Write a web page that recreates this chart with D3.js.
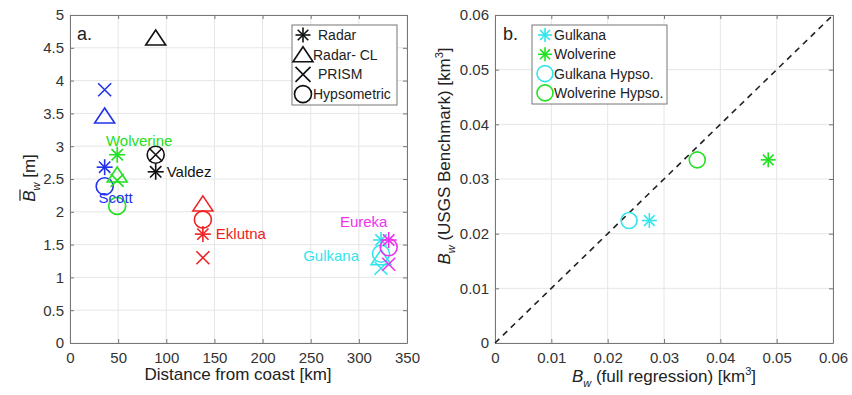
<!DOCTYPE html>
<html>
<head>
<meta charset="utf-8">
<script src="https://cdn.jsdelivr.net/npm/d3@7"></script>
<style>
  body { margin: 0; background: #fff; }
  svg { font-family: "Liberation Sans", Arial, sans-serif; }
</style>
</head>
<body>
<svg id="chart" width="852" height="395"></svg>
<script>
// ---- Panel a: mean winter balance vs. distance from coast ----
const sites      = ["Scott", "Wolverine", "Valdez", "Eklutna", "Gulkana", "Eureka"];
const distanceKm = [36, 49, 89, 138, 323, 331];
const radarB     = [2.68, 2.87, 2.61, 1.66, 1.57, 1.57];
const radarCLB   = [3.46, 2.56, 4.65, 2.12, 1.30, null];
const prismB     = [3.86, 2.48, 2.87, 1.30, 1.14, 1.20];
const hypsoB     = [2.39, 2.09, 2.87, 1.88, 1.36, 1.46];
const siteColors = ["#2233ee", "#22e022", "#111111", "#ee2222", "#33e4ec", "#ee33ee"];
const methodNames = ["Radar", "Radar- CL", "PRISM", "Hypsometric"];
const xTicksA = [0, 50, 100, 150, 200, 250, 300, 350];
const yTicksA = [0, 0.5, 1, 1.5, 2, 2.5, 3, 3.5, 4, 4.5, 5];

// ---- Panel b: glacier-wide winter balance volume ----
const glaciersB   = ["Gulkana", "Wolverine"];
const fullRegress = [0.0274, 0.0485];
const hypsoVol    = [0.0238, 0.0359];
const usgsBench   = [0.0224, 0.0335];
const glacierColors = ["#33e4ec", "#22e022"];
const legendB = ["Gulkana", "Wolverine", "Gulkana Hypso.", "Wolverine Hypso."];
const ticksB = [0, 0.01, 0.02, 0.03, 0.04, 0.05, 0.06];

const svg = d3.select("#chart");
const axisColor = "#777";
const textColor = "#333";

// marker painters
function star(g, x, y, c, s = 8) {
  const p = g.append("g").attr("stroke", c).attr("stroke-width", 1.6);
  for (let k = 0; k < 4; k++) {
    const a = k * Math.PI / 4;
    p.append("line").attr("x1", x - s * Math.cos(a)).attr("y1", y - s * Math.sin(a))
      .attr("x2", x + s * Math.cos(a)).attr("y2", y + s * Math.sin(a));
  }
}
function tri(g, x, y, c, s = 10) {
  g.append("path").attr("d", `M${x},${y - s * 0.8}L${x + s},${y + s * 0.7}L${x - s},${y + s * 0.7}Z`)
    .attr("fill", "none").attr("stroke", c).attr("stroke-width", 1.6);
}
function cross(g, x, y, c, s = 6.5) {
  g.append("path").attr("d", `M${x - s},${y - s}L${x + s},${y + s}M${x - s},${y + s}L${x + s},${y - s}`)
    .attr("stroke", c).attr("stroke-width", 1.6);
}
function circ(g, x, y, c, r = 8.5) {
  g.append("circle").attr("cx", x).attr("cy", y).attr("r", r)
    .attr("fill", "none").attr("stroke", c).attr("stroke-width", 1.6);
}

function frame(x, y, xTicks, yTicks, fmtX, fmtY) {
  const g = svg.append("g");
  const [x0, x1] = x.range(), [y0, y1] = y.range();
  // grid
  g.selectAll(".gx").data(xTicks).join("line")
    .attr("x1", d => x(d)).attr("x2", d => x(d)).attr("y1", y0).attr("y2", y1)
    .attr("stroke", "#e6e6e6").attr("stroke-width", 1);
  g.selectAll(".gy").data(yTicks).join("line")
    .attr("y1", d => y(d)).attr("y2", d => y(d)).attr("x1", x0).attr("x2", x1)
    .attr("stroke", "#e6e6e6").attr("stroke-width", 1);
  // axes
  const bottom = g.append("g").attr("transform", `translate(0,${y0})`)
    .call(d3.axisBottom(x).tickValues(xTicks).tickFormat(fmtX).tickSizeInner(-4).tickSizeOuter(0).tickPadding(9));
  const left = g.append("g").attr("transform", `translate(${x0},0)`)
    .call(d3.axisLeft(y).tickValues(yTicks).tickFormat(fmtY).tickSizeInner(-4).tickSizeOuter(0).tickPadding(6));
  const top = g.append("g").attr("transform", `translate(0,${y1})`)
    .call(d3.axisTop(x).tickValues(xTicks).tickFormat("").tickSizeInner(-4).tickSizeOuter(0));
  const right = g.append("g").attr("transform", `translate(${x1},0)`)
    .call(d3.axisRight(y).tickValues(yTicks).tickFormat("").tickSizeInner(-4).tickSizeOuter(0));
  [bottom, left, top, right].forEach(a => {
    a.selectAll("path, line").attr("stroke", axisColor);
    a.selectAll("text").attr("fill", textColor).style("font-size", "15px");
  });
  return g;
}

// rotated / plain axis title of the form  B_w <rest> [km^3]
function bwTitle(transform, rest, unit, withBar) {
  const t = svg.append("text").attr("transform", transform)
    .attr("text-anchor", "middle").attr("fill", "#222").style("font-size", "17px");
  const b = t.append("tspan").attr("font-style", "italic").text("B");
  t.append("tspan").attr("font-style", "italic").attr("dy", 5).style("font-size", "11px").text("w");
  t.append("tspan").attr("dy", -5).text(rest + unit);
  if (unit.endsWith("[km")) {
    t.append("tspan").attr("dy", -7).style("font-size", "11px").text("3");
    t.append("tspan").attr("dy", 7).text("]");
  }
  if (withBar) {
    const node = t.node();
    const start = node.getStartPositionOfChar(0);
    const w = node.getSubStringLength(0, 1);
    svg.append("line").attr("transform", transform)
      .attr("x1", start.x + 1).attr("x2", start.x + w + 1)
      .attr("y1", -15).attr("y2", -15).attr("stroke", "#222").attr("stroke-width", 1.2);
  }
  return t;
}

// ================= Panel a =================
const xa = d3.scaleLinear().domain([0, 350]).range([70, 407]);
const ya = d3.scaleLinear().domain([0, 5]).range([343, 15]);
frame(xa, ya, xTicksA, yTicksA, d => d, d => d);

const ga = svg.append("g");
sites.forEach((s, i) => {
  const c = siteColors[i], x = xa(distanceKm[i]);
  if (radarCLB[i] != null) tri(ga, x, ya(radarCLB[i]), c);
  circ(ga, x, ya(hypsoB[i]), c);
  cross(ga, x, ya(prismB[i]), c);
  star(ga, x, ya(radarB[i]), c);
});

// site labels
const labelA = [
  { i: 0, dx: 11,  dy: 17,  anchor: "middle", v: hypsoB },
  { i: 1, dx: 22,  dy: -9,  anchor: "middle", v: radarB },
  { i: 2, dx: 11,  dy: 5,   anchor: "start",  v: radarB },
  { i: 3, dx: 13,  dy: 5,   anchor: "start",  v: radarB },
  { i: 4, dx: -22, dy: 7,   anchor: "end",    v: hypsoB },
  { i: 5, dx: -25, dy: -13, anchor: "middle", v: radarB },
];
labelA.forEach(l => {
  ga.append("text").attr("x", xa(distanceKm[l.i]) + l.dx).attr("y", ya(l.v[l.i]) + l.dy)
    .attr("text-anchor", l.anchor).attr("fill", siteColors[l.i])
    .style("font-size", "15px").text(sites[l.i]);
});

svg.append("text").attr("x", 77).attr("y", 40).attr("fill", "#222")
  .style("font-size", "18px").text("a.");

// legend a
const lga = svg.append("g");
lga.append("rect").attr("x", 292).attr("y", 25).attr("width", 105).attr("height", 80)
  .attr("fill", "#fff").attr("stroke", axisColor);
const painters = [star, tri, cross, circ];
methodNames.forEach((m, k) => {
  const yy = 35 + k * 19.7;
  painters[k](lga, 303, yy, "#111", k === 1 ? 10 : (k === 3 ? 8.5 : 7.5));
  lga.append("text").attr("x", k === 1 || k === 3 ? 313 : 318).attr("y", yy + 5)
    .attr("fill", "#222").style("font-size", "14px").text(m);
});

// axis labels a
svg.append("text").attr("x", 238).attr("y", 380).attr("text-anchor", "middle")
  .attr("fill", "#222").style("font-size", "17px").text("Distance from coast [km]");
bwTitle("translate(35,178) rotate(-90)", " ", "[m]", true);

// ================= Panel b =================
const xb = d3.scaleLinear().domain([0, 0.06]).range([495, 833]);
const yb = d3.scaleLinear().domain([0, 0.06]).range([343, 15]);
frame(xb, yb, ticksB, ticksB, d => d, d => d);

const gb = svg.append("g");
gb.append("line").attr("x1", xb(0)).attr("y1", yb(0)).attr("x2", xb(0.06)).attr("y2", yb(0.06))
  .attr("stroke", "#222").attr("stroke-width", 1.6).attr("stroke-dasharray", "6,5");
glaciersB.forEach((g, i) => {
  circ(gb, xb(hypsoVol[i]), yb(usgsBench[i]), glacierColors[i], 8);
  star(gb, xb(fullRegress[i]), yb(usgsBench[i]), glacierColors[i], 7.5);
});

svg.append("text").attr("x", 503).attr("y", 40).attr("fill", "#222")
  .style("font-size", "18px").text("b.");

// legend b
const lgb = svg.append("g");
lgb.append("rect").attr("x", 532).attr("y", 25).attr("width", 135).attr("height", 79)
  .attr("fill", "#fff").attr("stroke", axisColor);
legendB.forEach((t, k) => {
  const yy = 35 + k * 19.3;
  const c = glacierColors[k % 2];
  if (k < 2) star(lgb, 545, yy, c, 7); else circ(lgb, 545, yy, c, 8);
  lgb.append("text").attr("x", 554).attr("y", yy + 5)
    .attr("fill", "#222").style("font-size", "14px").text(t);
});

// axis labels b
bwTitle("translate(664,382)", " (full regression) ", "[km", false);
bwTitle("translate(450,156) rotate(-90)", " (USGS Benchmark) ", "[km", false);
</script>
</body>
</html>
